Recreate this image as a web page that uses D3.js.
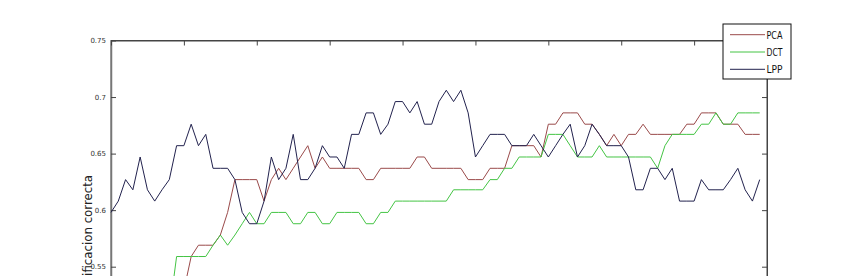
<!DOCTYPE html>
<html><head><meta charset="utf-8">
<script src="https://cdn.jsdelivr.net/npm/d3@7"></script>
<style>
html,body{margin:0;padding:0;background:#fff;overflow:hidden;}
svg{display:block;}
</style></head>
<body>
<svg id="chart" width="850" height="276"></svg>
<script>
// ---- data (x = 0..89) ----
const seriesNames = ["PCA", "DCT", "LPP"];
const seriesColors = ["#9a4a4a", "#44c444", "#22224e"];
const yTicks = [0.55, 0.6, 0.65, 0.7, 0.75];
const yTickLabels = ["0.55", "0.6", "0.65", "0.7", "0.75"];
const xTicks = [0, 10, 20, 30, 40, 50, 60, 70, 80, 90];

const pca = [0.490,0.500,0.500,0.510,0.500,0.510,0.520,0.510,0.520,0.520,
  0.529,0.559,0.569,0.569,0.569,0.578,0.598,0.627,0.627,0.627,
  0.627,0.608,0.627,0.637,0.627,0.637,0.647,0.657,0.637,0.647,
  0.637,0.637,0.637,0.637,0.637,0.627,0.627,0.637,0.637,0.637,
  0.637,0.637,0.647,0.647,0.637,0.637,0.637,0.637,0.637,0.627,
  0.627,0.627,0.637,0.637,0.637,0.657,0.657,0.657,0.657,0.647,
  0.676,0.676,0.686,0.686,0.686,0.676,0.676,0.667,0.657,0.667,
  0.657,0.667,0.667,0.676,0.667,0.667,0.667,0.667,0.667,0.676,
  0.676,0.686,0.686,0.686,0.676,0.676,0.676,0.667,0.667,0.667];

const dct = [0.490,0.490,0.500,0.500,0.500,0.510,0.510,0.500,0.510,0.559,
  0.559,0.559,0.559,0.559,0.569,0.578,0.569,0.578,0.588,0.598,
  0.588,0.588,0.598,0.598,0.598,0.588,0.588,0.598,0.598,0.588,
  0.588,0.598,0.598,0.598,0.598,0.588,0.588,0.598,0.598,0.608,
  0.608,0.608,0.608,0.608,0.608,0.608,0.608,0.618,0.618,0.618,
  0.618,0.618,0.627,0.627,0.637,0.637,0.647,0.647,0.647,0.647,
  0.667,0.667,0.667,0.657,0.647,0.647,0.647,0.657,0.647,0.647,
  0.647,0.647,0.647,0.647,0.647,0.637,0.657,0.667,0.667,0.667,
  0.667,0.676,0.676,0.686,0.676,0.676,0.686,0.686,0.686,0.686];

const lpp = [0.598,0.608,0.627,0.618,0.647,0.618,0.608,0.618,0.627,0.657,
  0.657,0.676,0.657,0.667,0.637,0.637,0.637,0.627,0.598,0.588,
  0.588,0.608,0.647,0.627,0.637,0.667,0.627,0.627,0.637,0.657,
  0.647,0.647,0.637,0.667,0.667,0.686,0.686,0.667,0.676,0.696,
  0.696,0.686,0.696,0.676,0.676,0.696,0.706,0.696,0.706,0.686,
  0.647,0.657,0.667,0.667,0.667,0.657,0.657,0.657,0.667,0.657,
  0.647,0.657,0.667,0.676,0.647,0.657,0.676,0.667,0.657,0.657,
  0.657,0.647,0.618,0.618,0.637,0.637,0.627,0.637,0.608,0.608,
  0.608,0.627,0.618,0.618,0.618,0.627,0.637,0.618,0.608,0.627];

const seriesValues = [pca, dct, lpp];

// ---- layout ----
const svg = d3.select("#chart");
const mLeft = 111, mRight = 767, mTop = 40.5;
const x = d3.scaleLinear().domain([0, 90]).range([mLeft, mRight]);
const y = d3.scaleLinear().domain([0.45, 0.75]).range([mTop + 339.3, mTop]);
const mBottom = y(0.45);

// plot box
svg.append("rect").attr("x", mLeft).attr("y", mTop)
  .attr("width", mRight - mLeft).attr("height", mBottom - mTop)
  .attr("fill", "none").attr("stroke", "#444").attr("stroke-width", 1);

const fontTick = "'DejaVu Sans', sans-serif";

const yl = svg.append("g").attr("transform", `translate(${mLeft},0)`)
  .call(d3.axisLeft(y).tickValues(yTicks)
    .tickFormat((d, i) => yTickLabels[i])
    .tickSizeInner(-5).tickSizeOuter(0).tickPadding(5));
yl.select(".domain").attr("stroke", "#777").attr("stroke-width", 1.5);
yl.selectAll(".tick line").attr("stroke", "#444");
yl.selectAll(".tick text").attr("font-family", fontTick).attr("font-size", 7)
  .attr("fill", "#333");

const yr = svg.append("g").attr("transform", `translate(${mRight},0)`)
  .call(d3.axisRight(y).tickValues(yTicks).tickFormat("")
    .tickSizeInner(-5).tickSizeOuter(0));
yr.select(".domain").attr("stroke", "#444");
yr.selectAll(".tick line").attr("stroke", "#444");

const xt = svg.append("g").attr("transform", `translate(0,${mTop})`)
  .call(d3.axisTop(x).tickValues(xTicks).tickFormat("")
    .tickSizeInner(-5).tickSizeOuter(0));
xt.select(".domain").attr("stroke", "#444");
xt.selectAll(".tick line").attr("stroke", "#444");

// y label (partially cut off)
svg.append("text")
  .attr("transform", "translate(92,175) rotate(-90)")
  .attr("text-anchor", "end")
  .attr("font-family", "'DejaVu Sans Condensed','DejaVu Sans',sans-serif")
  .attr("font-size", 11.5).attr("fill", "#222")
  .attr("textLength", 124).attr("lengthAdjust", "spacingAndGlyphs")
  .text("clasificacion correcta");

// series lines
const line = d3.line().x((d, i) => x(i)).y(d => y(d));
const plot = svg.append("g");
seriesValues.forEach((vals, s) => {
  plot.append("path").datum(vals)
    .attr("d", line).attr("fill", "none")
    .attr("stroke", seriesColors[s]).attr("stroke-width", 1)
    .attr("stroke-linejoin", "round");
});

// legend
const lg = svg.append("g");
lg.append("rect").attr("x", 723).attr("y", 24).attr("width", 68).attr("height", 55)
  .attr("fill", "#fff").attr("stroke", "#111").attr("stroke-width", 1);
seriesNames.forEach((n, i) => {
  const ly = 34.7 + i * 17.3;
  lg.append("line").attr("x1", 730).attr("x2", 765).attr("y1", ly).attr("y2", ly)
    .attr("stroke", seriesColors[i]).attr("stroke-width", 1);
  lg.append("text").attr("x", 766.5).attr("y", ly + 4)
    .attr("font-family", "'DejaVu Sans Condensed','DejaVu Sans',sans-serif")
    .attr("font-size", 10).attr("fill", "#111")
    .attr("textLength", 16).attr("lengthAdjust", "spacingAndGlyphs")
    .text(n);
});
</script>
</body></html>
